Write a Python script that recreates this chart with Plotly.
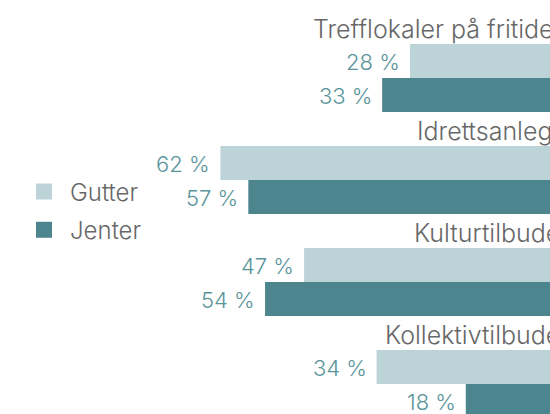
import plotly.graph_objects as go

categories = ["Trefflokaler på fritiden", "Idrettsanlegg", "Kulturtilbudet", "Kollektivtilbudet"]
gutter = [28, 62, 47, 34]
jenter = [33, 57, 54, 18]
series_names = ["Gutter", "Jenter"]

LIGHT = "#bcd4d7"
DARK = "#4d858e"
VAL_COLOR = "#5a949b"
LBL_COLOR = "#676767"
FONT = "Inter"
W = 300

n = len(categories)
y_label = [3 * i for i in range(n)]
y_g = [3 * i + 1 for i in range(n)]
y_j = [3 * i + 2 for i in range(n)]

fig = go.Figure()
fig.add_trace(go.Bar(x=gutter, y=y_g, orientation="h", width=1.0,
                     marker=dict(color=LIGHT, line=dict(width=0)),
                     showlegend=False, hoverinfo="skip"))
fig.add_trace(go.Bar(x=jenter, y=y_j, orientation="h", width=1.0,
                     marker=dict(color=DARK, line=dict(width=0)),
                     showlegend=False, hoverinfo="skip"))

# category labels (right-aligned just past the right edge, so they run off it)
for cat, yy in zip(categories, y_label):
    fig.add_annotation(xref="paper", x=1, y=yy, text=cat, showarrow=False,
                       xanchor="right", yanchor="middle", xshift=20, yshift=-2,
                       font=dict(family=FONT, size=25, color=LBL_COLOR, weight=W))

# value labels
for vals, ys in ((gutter, y_g), (jenter, y_j)):
    for v, yy in zip(vals, ys):
        fig.add_annotation(x=v, y=yy, text=f"{v} %", showarrow=False,
                           xanchor="right", yanchor="middle", xshift=-8, yshift=-1,
                           font=dict(family=FONT, size=22, color=VAL_COLOR, weight=W))

# legend entries
for name, col in zip(series_names, (LIGHT, DARK)):
    fig.add_trace(go.Scatter(x=[None], y=[None], mode="markers", name=name,
                             legendgroup=name,
                             marker=dict(symbol="square", size=16, color=col)))

fig.update_layout(
    width=550, height=414,
    margin=dict(l=0, r=0, t=0, b=0),
    paper_bgcolor="white", plot_bgcolor="white",
    barmode="overlay",
    xaxis=dict(range=[101.53, 2.90], visible=False, fixedrange=True),
    yaxis=dict(range=[11.38, -0.794], visible=False, fixedrange=True),
    showlegend=True,
    legend=dict(x=18 / 550, y=1 - 211 / 414, xanchor="left", yanchor="middle",
                font=dict(family=FONT, size=24, color=LBL_COLOR, weight=W),
                tracegroupgap=4, itemsizing="trace", itemwidth=42,
                bgcolor="rgba(0,0,0,0)"),
)

fig.write_html("out.html", config={"displayModeBar": False},
               post_script="document.body.style.margin='0';")
